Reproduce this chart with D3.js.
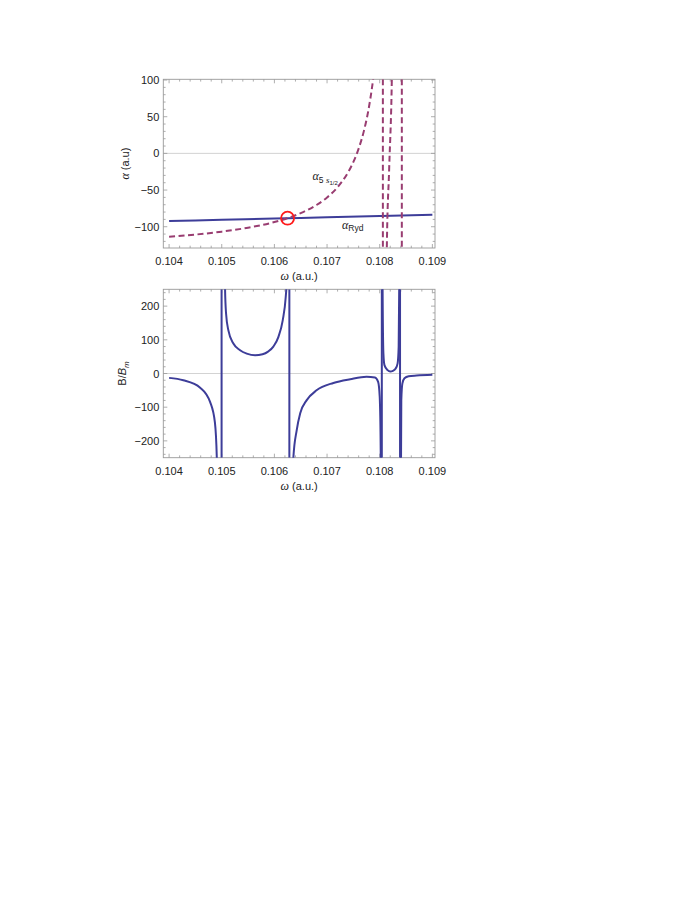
<!DOCTYPE html>
<html><head><meta charset="utf-8">
<script src="https://cdn.jsdelivr.net/npm/d3@7"></script>
<style>
body{margin:0;background:#fff}
svg{display:block}
text{font-family:"Liberation Sans",Arial,sans-serif;fill:#222}
</style>
</head><body>
<svg id="c" width="697" height="902"></svg>
<script>
// ---------------- data ----------------
const omegaTicks = [0.104, 0.105, 0.106, 0.107, 0.108, 0.109];
const alphaTicks = [-100, -50, 0, 50, 100];
const ratioTicks = [-200, -100, 0, 100, 200];

// alpha_Ryd (solid blue)
const alphaRyd = [[0.104, -92.3], [0.105, -90.6], [0.106, -88.9], [0.107, -87.1], [0.108, -85.4], [0.109, -83.7]];

// alpha_5s1/2 (dashed purple), branches between poles
const alpha5sBranch1 = [[0.104, -113.7], [0.1045, -110.7], [0.105, -106.7], [0.1055, -101.3], [0.106, -93.6],
  [0.1065, -81.5], [0.1068, -70.4], [0.107, -60.1], [0.1072, -46.1], [0.1074, -25.7], [0.1075, -11.7],
  [0.1076, 6.5], [0.1077, 30.7], [0.1078, 64.9], [0.1079, 116.6], [0.10795, 153.8], [0.108, 204], [0.10803, 243]];
const alpha5sBranch2 = [[0.10810, -400], [0.108135, -129], [0.10818, -20], [0.10823, 101], [0.10828, 400]];
const alpha5sPoles = [0.10806, 0.10842];

// B/B_m (solid blue), branches between poles
const ratioBranchA = [[0.104, -13], [0.10427, -20], [0.10459, -42], [0.10478, -85], [0.10487, -145], [0.104906, -250], [0.10494, -600]];
const ratioBranchB = [[0.10504, 600], [0.105063, 250], [0.105082, 178], [0.105126, 128], [0.105221, 89], [0.105348, 69],
  [0.105475, 59], [0.105633, 54], [0.105775, 57], [0.105880, 65], [0.10598, 80], [0.106075, 108], [0.106158, 158],
  [0.106215, 227], [0.106234, 276], [0.10625, 600]];
const ratioBranchC = [[0.10632, -600], [0.10636, -250], [0.106424, -168], [0.10649, -118], [0.106614, -79], [0.1068, -50],
  [0.10712, -28], [0.10744, -17], [0.10775, -10], [0.10791, -12], [0.10797, -25], [0.10800, -69], [0.10802, -250], [0.10803, -600]];
const ratioBranchD = [[0.10805, 600], [0.108055, 250], [0.10807, 60], [0.10809, 25], [0.10815, 10], [0.1082, 6],
  [0.10825, 8], [0.1083, 14], [0.10834, 30], [0.10836, 80], [0.10837, 250], [0.10838, 600]];
const ratioBranchE = [[0.10840, -600], [0.108405, -250], [0.10841, -80], [0.10843, -30], [0.10847, -14], [0.10855, -8],
  [0.1087, -6], [0.109, -4]];
const ratioPoles = [0.104997, 0.106284, 0.10804, 0.108386];

const magicPoint = [0.10625, -88.4];

// ---------------- drawing ----------------
const svg = d3.select("#c");
const blue = "#3d3d99", purple = "#993d71";
const X0 = 163.3, X1 = 435;

function panel(y0, y1, yDomain, yTicks, yMinorStep, id) {
  const x = d3.scaleLinear().domain([0.10389, 0.10905]).range([X0, X1]);
  const y = d3.scaleLinear().domain(yDomain).range([y1, y0]);
  const g = svg.append("g");
  g.append("clipPath").attr("id", id).append("rect")
    .attr("x", X0).attr("y", y0).attr("width", X1 - X0).attr("height", y1 - y0);
  g.append("line").attr("x1", X0).attr("x2", X1).attr("y1", y(0)).attr("y2", y(0))
    .attr("stroke", "#c8c8c8").attr("stroke-width", 0.8);
  g.append("rect").attr("x", X0).attr("y", y0).attr("width", X1 - X0).attr("height", y1 - y0)
    .attr("fill", "none").attr("stroke", "#999").attr("stroke-width", 0.9);
  const tk = g.append("g").attr("stroke", "#999").attr("stroke-width", 0.8);
  const xMinor = d3.range(0.1040, 0.10906, 0.0002).filter(v => v >= 0.10389 && v <= 0.10905);
  xMinor.forEach(v => {
    const major = omegaTicks.some(t => Math.abs(t - v) < 1e-7);
    const L = major ? 4 : 2.3;
    tk.append("line").attr("x1", x(v)).attr("x2", x(v)).attr("y1", y1).attr("y2", y1 - L);
    tk.append("line").attr("x1", x(v)).attr("x2", x(v)).attr("y1", y0).attr("y2", y0 + L);
  });
  const yMinor = d3.range(Math.ceil(yDomain[0] / yMinorStep) * yMinorStep, yDomain[1] + 0.001, yMinorStep);
  yMinor.forEach(v => {
    const major = yTicks.includes(v);
    const L = major ? 4 : 2.3;
    tk.append("line").attr("x1", X0).attr("x2", X0 + L).attr("y1", y(v)).attr("y2", y(v));
    tk.append("line").attr("x1", X1).attr("x2", X1 - L).attr("y1", y(v)).attr("y2", y(v));
  });
  g.selectAll(".xl").data(omegaTicks).enter().append("text")
    .attr("x", d => x(d)).attr("y", y1 + 17).attr("text-anchor", "middle")
    .attr("font-size", 11).text(d => d3.format(".3f")(d));
  g.selectAll(".yl").data(yTicks).enter().append("text")
    .attr("x", X0 - 4).attr("y", d => y(d) + 4).attr("text-anchor", "end")
    .attr("font-size", 11).text(d => d3.format("d")(d));
  const xt = g.append("text").attr("x", (X0 + X1) / 2).attr("y", y1 + 32).attr("text-anchor", "middle").attr("font-size", 11);
  xt.append("tspan").attr("font-family", "Liberation Serif").attr("font-style", "italic").attr("font-size", 12).text("ω");
  xt.append("tspan").text(" (a.u.)");
  const plot = g.append("g").attr("clip-path", `url(#${id})`);
  return {x, y, g, plot, y0, y1};
}

const topP = panel(79.3, 248, [-129, 101], alphaTicks, 10, "clipTop");
const botP = panel(289.3, 457.7, [-250, 250], ratioTicks, 20, "clipBot");

{
  const t = svg.append("text").attr("transform", "translate(128.5,163.6) rotate(-90)")
    .attr("text-anchor", "middle").attr("font-size", 11);
  t.append("tspan").attr("font-family", "Liberation Serif").attr("font-style", "italic").attr("font-size", 12).text("α");
  t.append("tspan").text(" (a.u)");
  const b = svg.append("text").attr("transform", "translate(126,373.5) rotate(-90)")
    .attr("text-anchor", "middle").attr("font-size", 11);
  b.append("tspan").text("B/");
  b.append("tspan").attr("font-style", "italic").text("B");
  b.append("tspan").attr("font-style", "italic").attr("font-size", 8).attr("dy", 2.5).text("m");
}

const lineTop = d3.line().x(d => topP.x(d[0])).y(d => topP.y(d[1])).curve(d3.curveMonotoneX);
topP.plot.append("path").datum(alphaRyd).attr("d", lineTop).attr("fill", "none")
  .attr("stroke", blue).attr("stroke-width", 2);
[alpha5sBranch1, alpha5sBranch2].forEach(br => {
  topP.plot.append("path").datum(br).attr("d", lineTop).attr("fill", "none")
    .attr("stroke", purple).attr("stroke-width", 2).attr("stroke-dasharray", "6,3.5");
});
alpha5sPoles.forEach(p => {
  topP.plot.append("line").attr("x1", topP.x(p)).attr("x2", topP.x(p)).attr("y1", topP.y0).attr("y2", topP.y1)
    .attr("stroke", purple).attr("stroke-width", 2).attr("stroke-dasharray", "6,3.5");
});
topP.g.append("circle").attr("cx", topP.x(magicPoint[0])).attr("cy", topP.y(magicPoint[1])).attr("r", 6.5)
  .attr("fill", "none").attr("stroke", "#ff1a1a").attr("stroke-width", 1.8);

{
  const a = svg.append("text").attr("x", 312.5).attr("y", 180);
  a.append("tspan").attr("font-family", "Liberation Serif").attr("font-style", "italic").attr("font-size", 12).text("α");
  a.append("tspan").attr("font-size", 8.5).attr("dy", 2.5).text("5 ");
  a.append("tspan").attr("font-family", "Liberation Serif").attr("font-style", "italic").attr("font-size", 9).text("s");
  a.append("tspan").attr("font-size", 6).attr("dy", 2).text("1/2");
  const r = svg.append("text").attr("x", 342).attr("y", 228.5);
  r.append("tspan").attr("font-family", "Liberation Serif").attr("font-style", "italic").attr("font-size", 12).text("α");
  r.append("tspan").attr("font-size", 8.5).attr("dy", 2.5).text("Ryd");
}

const lineBot = d3.line().x(d => botP.x(d[0])).y(d => botP.y(d[1])).curve(d3.curveMonotoneX);
[ratioBranchA, ratioBranchB, ratioBranchC, ratioBranchD, ratioBranchE].forEach(br => {
  botP.plot.append("path").datum(br).attr("d", lineBot).attr("fill", "none")
    .attr("stroke", blue).attr("stroke-width", 2);
});
ratioPoles.forEach(p => {
  botP.plot.append("line").attr("x1", botP.x(p)).attr("x2", botP.x(p)).attr("y1", botP.y0).attr("y2", botP.y1)
    .attr("stroke", blue).attr("stroke-width", 2);
});
</script>
</body></html>
